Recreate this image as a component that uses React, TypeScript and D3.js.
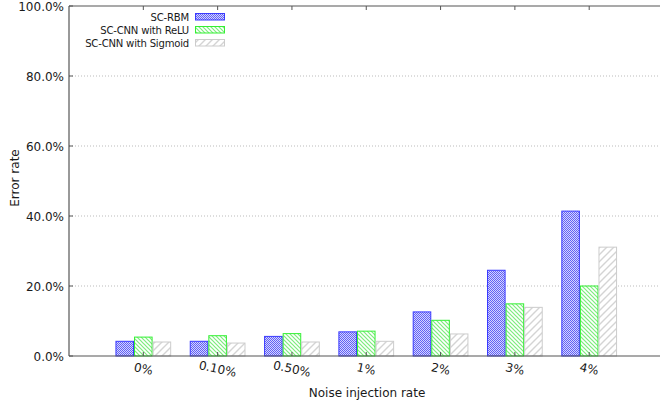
import React from "react";
import * as d3 from "d3";

// Error rate per noise injection rate, one array per model
const categories = ["0%", "0.10%", "0.50%", "1%", "2%", "3%", "4%"];
const scRbm = [0.042, 0.042, 0.056, 0.069, 0.126, 0.245, 0.414];
const cnnRelu = [0.054, 0.058, 0.064, 0.071, 0.102, 0.149, 0.200];
const cnnSigmoid = [0.040, 0.037, 0.040, 0.042, 0.063, 0.139, 0.311];
const seriesNames = ["SC-RBM", "SC-CNN with ReLU", "SC-CNN with Sigmoid"];
const yTicks = [0, 0.2, 0.4, 0.6, 0.8, 1.0];

const W = 660;
const H = 407;
const FONT = "'DejaVu Sans', Verdana, sans-serif";
const FONT_NARROW = "'DejaVu Sans Condensed', 'DejaVu Sans', sans-serif";

export default function App() {
  const left = 69;
  const top = 6;
  const bottom = 356;
  const right = 663.5;

  const x = d3.scaleLinear().domain([-1, 7]).range([left, right]);
  const y = d3.scaleLinear().domain([0, 1]).range([bottom, top]);
  const fmt = d3.format(".1%");

  const barW = 0.25;
  const series = [
    { name: seriesNames[0], values: scRbm, fill: "url(#patBlue)", stroke: "#3a3aff" },
    { name: seriesNames[1], values: cnnRelu, fill: "url(#patGreen)", stroke: "#33f033" },
    { name: seriesNames[2], values: cnnSigmoid, fill: "url(#patGrey)", stroke: "#cccccc" },
  ];

  const axisColor = "#555";
  const textColor = "#1a1a1a";

  return (
    <div style={{ position: "fixed", left: 0, top: 0 }}>
      <svg width={W} height={H} style={{ display: "block", background: "#fff" }}>
        <defs>
          <pattern id="patBlue" width="2" height="2" patternUnits="userSpaceOnUse">
            <rect width="2" height="2" fill="#d4d4ff" />
            <rect x="0" y="0" width="1" height="1" fill="#6262f4" />
            <rect x="1" y="1" width="1" height="1" fill="#6262f4" />
          </pattern>
          <pattern id="patGreen" width="4" height="4" patternUnits="userSpaceOnUse">
            <rect width="4" height="4" fill="#ffffff" />
            <path d="M-1,-1 L5,5 M-1,3 L1,5 M3,-1 L5,1" stroke="#7ced7c" strokeWidth="1.2" />
          </pattern>
          <pattern id="patGrey" width="7" height="7" patternUnits="userSpaceOnUse">
            <rect width="7" height="7" fill="#ffffff" />
            <path d="M-1,8 L8,-1 M-1,1 L1,-1 M6,8 L8,6" stroke="#d4d4d4" strokeWidth="1.4" />
          </pattern>
        </defs>

        {/* horizontal grid */}
        {yTicks.filter((t) => t > 0 && t < 1).map((t) => (
          <line key={"g" + t} x1={left} x2={right} y1={y(t)} y2={y(t)}
            stroke="#bbbbbb" strokeWidth={1} strokeDasharray="1,2" />
        ))}

        {/* bars */}
        {series.map((s, si) =>
          s.values.map((v, i) => {
            const x0 = x(i - 1.5 * barW + si * barW);
            const x1 = x(i - 1.5 * barW + (si + 1) * barW);
            return (
              <rect key={s.name + i} x={x0 + 0.5} y={y(v)} width={x1 - x0 - 1}
                height={bottom - y(v)} fill={s.fill} stroke={s.stroke} strokeWidth={1} />
            );
          })
        )}

        {/* border */}
        <line x1={left} x2={left} y1={top} y2={bottom} stroke={axisColor} strokeWidth={1.2} />
        <line x1={left} x2={right} y1={top} y2={top} stroke={axisColor} strokeWidth={1.2} />
        <line x1={left} x2={right} y1={bottom} y2={bottom} stroke={axisColor} strokeWidth={1.2} />

        {/* y ticks and labels */}
        {yTicks.map((t) => (
          <g key={"y" + t}>
            <line x1={left} x2={left + 4} y1={y(t)} y2={y(t)} stroke={axisColor} />
            <text x={64} y={y(t) + 4.5} textAnchor="end" fontFamily={FONT} fontSize={12} fill={textColor}>
              {fmt(t)}
            </text>
          </g>
        ))}

        {/* x ticks and labels */}
        {categories.map((c, i) => (
          <g key={"x" + c}>
            <line x1={x(i)} x2={x(i)} y1={top} y2={top + 4} stroke={axisColor} />
            <line x1={x(i)} x2={x(i)} y1={bottom} y2={bottom - 4} stroke={axisColor} />
            <text x={x(i)} y={373} textAnchor="middle" fontFamily={FONT} fontSize={12}
              fill={textColor} transform={`rotate(12, ${x(i)}, 369)`}>
              {c}
            </text>
          </g>
        ))}

        {/* axis titles */}
        <text x={367} y={397} textAnchor="middle" fontFamily={FONT} fontSize={12} fill={textColor}>
          Noise injection rate
        </text>
        <text transform={`translate(19, 178) rotate(-90)`} textAnchor="middle" fontFamily={FONT}
          fontSize={12} fill={textColor}>
          Error rate
        </text>

        {/* legend */}
        {series.map((s, si) => {
          const cy = 16.5 + si * 13;
          return (
            <g key={"lg" + si}>
              <text x={189} y={cy + 4} textAnchor="end" fontFamily={FONT_NARROW} fontSize={11.2}
                letterSpacing={-0.2} fill={textColor}>
                {s.name}
              </text>
              <rect x={195.5} y={cy - 3} width={29} height={6.5} fill={s.fill} stroke={s.stroke} strokeWidth={1} />
            </g>
          );
        })}
      </svg>
    </div>
  );
}
